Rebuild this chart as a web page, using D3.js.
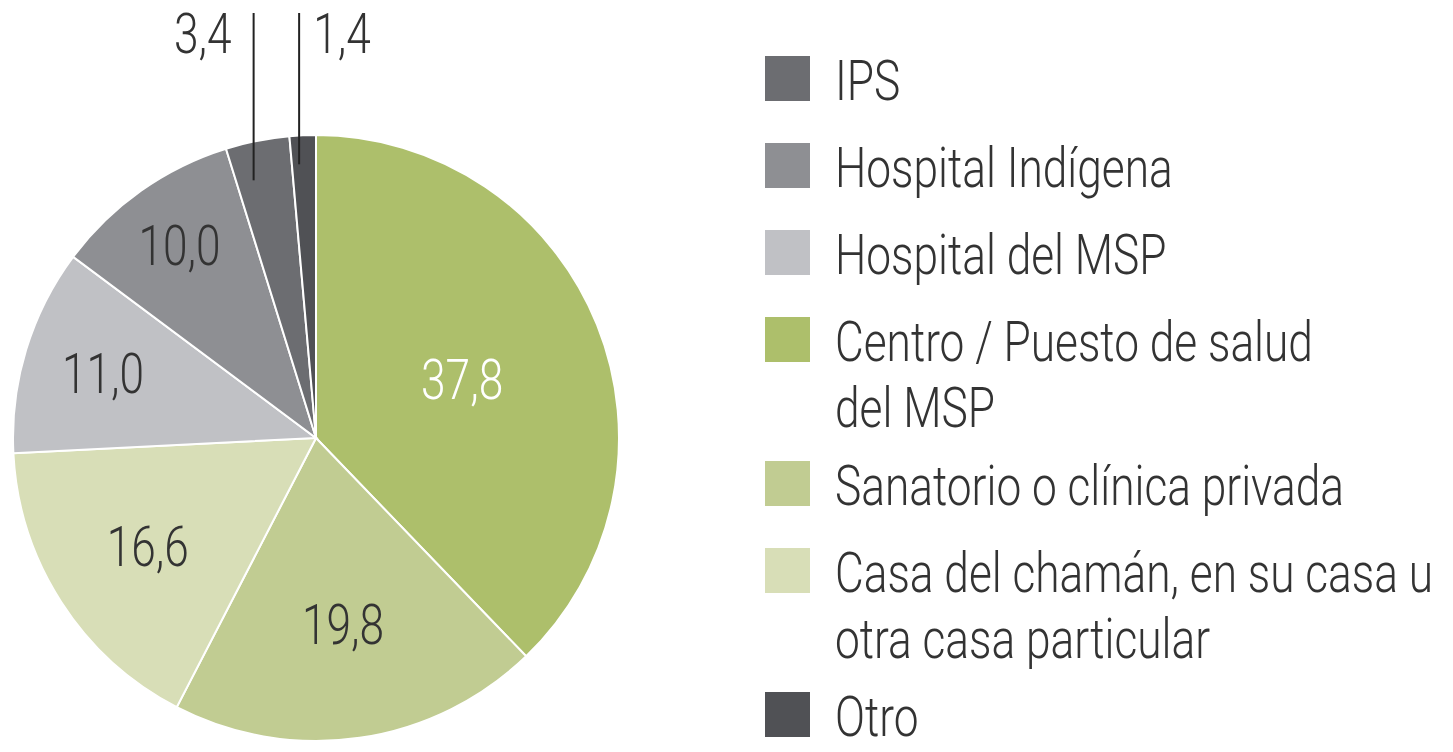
<!DOCTYPE html>
<html>
<head>
<meta charset="utf-8">
<script src="https://cdn.jsdelivr.net/npm/d3@7"></script>
<style>
  body { margin: 0; background: #fff; }
  text { font-family: Roboto, "Liberation Sans", sans-serif; font-weight: 300; }
</style>
</head>
<body>
<div id="chart-area"></div>
<script>
// slices, clockwise from 12 o'clock
var categories = ["Centro / Puesto de salud del MSP", "Sanatorio o clínica privada",
    "Casa del chamán, en su casa u otra casa particular", "Hospital del MSP",
    "Hospital Indígena", "IPS", "Otro"];
var values = [37.8, 19.8, 16.6, 11.0, 10.0, 3.4, 1.4];
var valueLabels = ["37,8", "19,8", "16,6", "11,0", "10,0", "3,4", "1,4"];

// legend order, with line breaks
var legendOrder = ["IPS", "Hospital Indígena", "Hospital del MSP", "Centro / Puesto de salud del MSP",
    "Sanatorio o clínica privada", "Casa del chamán, en su casa u otra casa particular", "Otro"];
var legendLines = [["IPS"], ["Hospital Indígena"], ["Hospital del MSP"],
    ["Centro / Puesto de salud", "del MSP"], ["Sanatorio o clínica privada"],
    ["Casa del chamán, en su casa u", "otra casa particular"], ["Otro"]];

var colors = ["#adbf6b", "#c1cc92", "#d8deb7", "#c0c1c5", "#8e8f93", "#6c6d71", "#505155"];

var width = 1453, height = 752;
var cx = 316, cy = 438, radius = 303;
var fontSize = 56, squeeze = 0.79;
var textColor = "#333";

var svg = d3.select("#chart-area").append("svg")
    .attr("width", width)
    .attr("height", height);

var color = d3.scaleOrdinal().domain(categories).range(colors);

var pie = d3.pie().sort(null).value(function(d) { return d.value; });
var arc = d3.arc().innerRadius(0).outerRadius(radius);

var data = categories.map(function(c, i) {
    return {name: c, value: values[i], label: valueLabels[i]};
});
var arcs = pie(data);

var g = svg.append("g")
    .attr("transform", "translate(" + cx + "," + cy + ")");

g.selectAll("path.slice")
    .data(arcs)
    .enter().append("path")
    .attr("class", "slice")
    .attr("d", arc)
    .attr("fill", function(d) { return color(d.data.name); })
    .attr("stroke", "#fff")
    .attr("stroke-width", 2);

// label distance from centre, as share of the radius
var labelR = [0.52, 0.62, 0.66, 0.735, 0.78];

function midAngle(d) { return (d.startAngle + d.endAngle) / 2; }

// labels inside the big slices
arcs.forEach(function(d, i) {
    if (i >= labelR.length) return;
    var a = midAngle(d), r = labelR[i] * radius;
    var x = r * Math.sin(a), y = -r * Math.cos(a);
    g.append("g")
        .attr("transform", "translate(" + x + "," + y + ") scale(" + squeeze + ",1)")
        .append("text")
        .attr("text-anchor", "middle")
        .attr("dy", "0.36em")
        .attr("font-size", fontSize)
        .attr("fill", i === 0 ? "#fff" : textColor)
        .text(d.data.label);
});

// leader lines for the two thin slices
var lineTop = 13 - cy;
var leaderR = [0.875, 0.905];
arcs.forEach(function(d, i) {
    if (i < labelR.length) return;
    var k = i - labelR.length;
    var a = d.startAngle + 0.3 * (d.endAngle - d.startAngle), r = leaderR[k] * radius;
    var x = r * Math.sin(a), y = -r * Math.cos(a);
    g.append("line")
        .attr("x1", x).attr("y1", y)
        .attr("x2", x).attr("y2", lineTop)
        .attr("stroke", "#222")
        .attr("stroke-width", 2);
    var left = (k === 0);
    g.append("g")
        .attr("transform", "translate(" + (left ? x - 22 : x + 14) + "," + (lineTop + 40) + ") scale(" + squeeze + ",1)")
        .append("text")
        .attr("text-anchor", left ? "end" : "start")
        .attr("font-size", fontSize)
        .attr("fill", textColor)
        .text(d.data.label);
});

// legend
var legend = svg.append("g").attr("transform", "translate(765,0)");
var ly = 56;
legendOrder.forEach(function(name, i) {
    var item = legend.append("g").attr("transform", "translate(0," + ly + ")");
    item.append("rect")
        .attr("width", 45).attr("height", 45)
        .attr("fill", color(name));
    legendLines[i].forEach(function(line, j) {
        item.append("g")
            .attr("transform", "translate(70," + (44 + j * 66) + ") scale(" + squeeze + ",1)")
            .append("text")
            .attr("font-size", fontSize)
            .attr("fill", textColor)
            .text(line);
    });
    ly += 87 + (legendLines[i].length - 1) * 57;
});
</script>
</body>
</html>
